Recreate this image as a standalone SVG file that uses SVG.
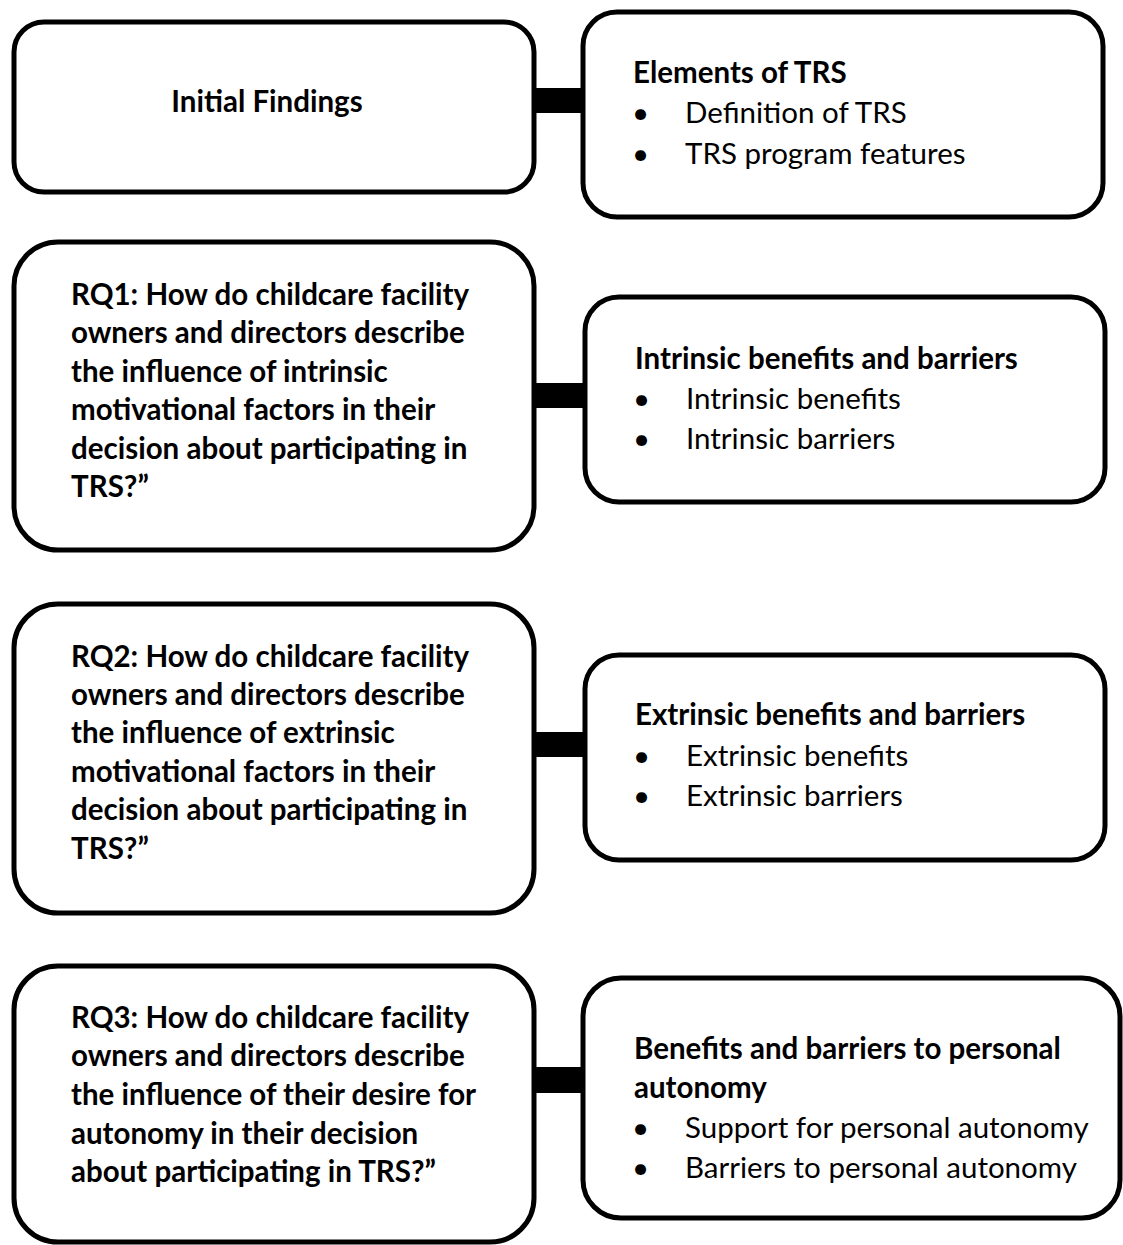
<svg xmlns="http://www.w3.org/2000/svg" width="1123" height="1245" viewBox="0 0 1123 1245">
<style>
.box{fill:#fff;stroke:#000;stroke-width:5}
.b{font-family:Lato,"Open Sans","Liberation Sans",sans-serif;font-weight:bold;font-size:29.5px;fill:#000}
.r{font-family:Lato,"Open Sans","Liberation Sans",sans-serif;font-size:29.5px;fill:#000}
.bar{fill:#000}
</style>
<rect width="1123" height="1245" fill="#fff"/>
<g id="connectors">
<rect class="bar" x="533" y="88" width="52" height="25"/>
<rect class="bar" x="533" y="383" width="54" height="25"/>
<rect class="bar" x="533" y="732" width="54" height="25"/>
<rect class="bar" x="530" y="1067" width="55" height="26"/>
</g>
<g id="initial-findings">
<rect class="box" x="14" y="22" width="520" height="170" rx="30"/>
<text class="b" x="267" y="112" text-anchor="middle">Initial Findings</text>
</g>
<g id="elements-of-trs">
<rect class="box" x="583" y="12" width="520" height="205" rx="34"/>
<text class="b" x="633" y="83">Elements of TRS</text>
<text class="r" x="632" y="123">•</text><text class="r" x="685" y="123">Definition of TRS</text>
<text class="r" x="632" y="164">•</text><text class="r" x="685" y="164">TRS program features</text>
</g>
<g id="rq1">
<rect class="box" x="14" y="242" width="520" height="308" rx="44"/>
<text class="b" x="71" y="305">RQ1: How do childcare facility</text>
<text class="b" x="71" y="343">owners and directors describe</text>
<text class="b" x="71" y="382">the influence of intrinsic</text>
<text class="b" x="71" y="420">motivational factors in their</text>
<text class="b" x="71" y="459">decision about participating in</text>
<text class="b" x="71" y="497">TRS?”</text>
</g>
<g id="intrinsic">
<rect class="box" x="585" y="297" width="520" height="205" rx="34"/>
<text class="b" x="635" y="369">Intrinsic benefits and barriers</text>
<text class="r" x="633" y="409">•</text><text class="r" x="686" y="409">Intrinsic benefits</text>
<text class="r" x="633" y="449">•</text><text class="r" x="686" y="449">Intrinsic barriers</text>
</g>
<g id="rq2">
<rect class="box" x="14" y="604" width="520" height="309" rx="44"/>
<text class="b" x="71" y="667">RQ2: How do childcare facility</text>
<text class="b" x="71" y="705">owners and directors describe</text>
<text class="b" x="71" y="743">the influence of extrinsic</text>
<text class="b" x="71" y="782">motivational factors in their</text>
<text class="b" x="71" y="820">decision about participating in</text>
<text class="b" x="71" y="859">TRS?”</text>
</g>
<g id="extrinsic">
<rect class="box" x="585" y="655" width="520" height="205" rx="34"/>
<text class="b" x="635" y="725">Extrinsic benefits and barriers</text>
<text class="r" x="633" y="766">•</text><text class="r" x="686" y="766">Extrinsic benefits</text>
<text class="r" x="633" y="806">•</text><text class="r" x="686" y="806">Extrinsic barriers</text>
</g>
<g id="rq3">
<rect class="box" x="14" y="966" width="520" height="276" rx="44"/>
<text class="b" x="71" y="1028">RQ3: How do childcare facility</text>
<text class="b" x="71" y="1066">owners and directors describe</text>
<text class="b" x="71" y="1105">the influence of their desire for</text>
<text class="b" x="71" y="1144">autonomy in their decision</text>
<text class="b" x="71" y="1182">about participating in TRS?”</text>
</g>
<g id="autonomy">
<rect class="box" x="583" y="978" width="537" height="240" rx="38"/>
<text class="b" x="634" y="1059">Benefits and barriers to personal</text>
<text class="b" x="634" y="1098">autonomy</text>
<text class="r" x="632" y="1138">•</text><text class="r" x="685" y="1138">Support for personal autonomy</text>
<text class="r" x="632" y="1178">•</text><text class="r" x="685" y="1178">Barriers to personal autonomy</text>
</g>
</svg>
